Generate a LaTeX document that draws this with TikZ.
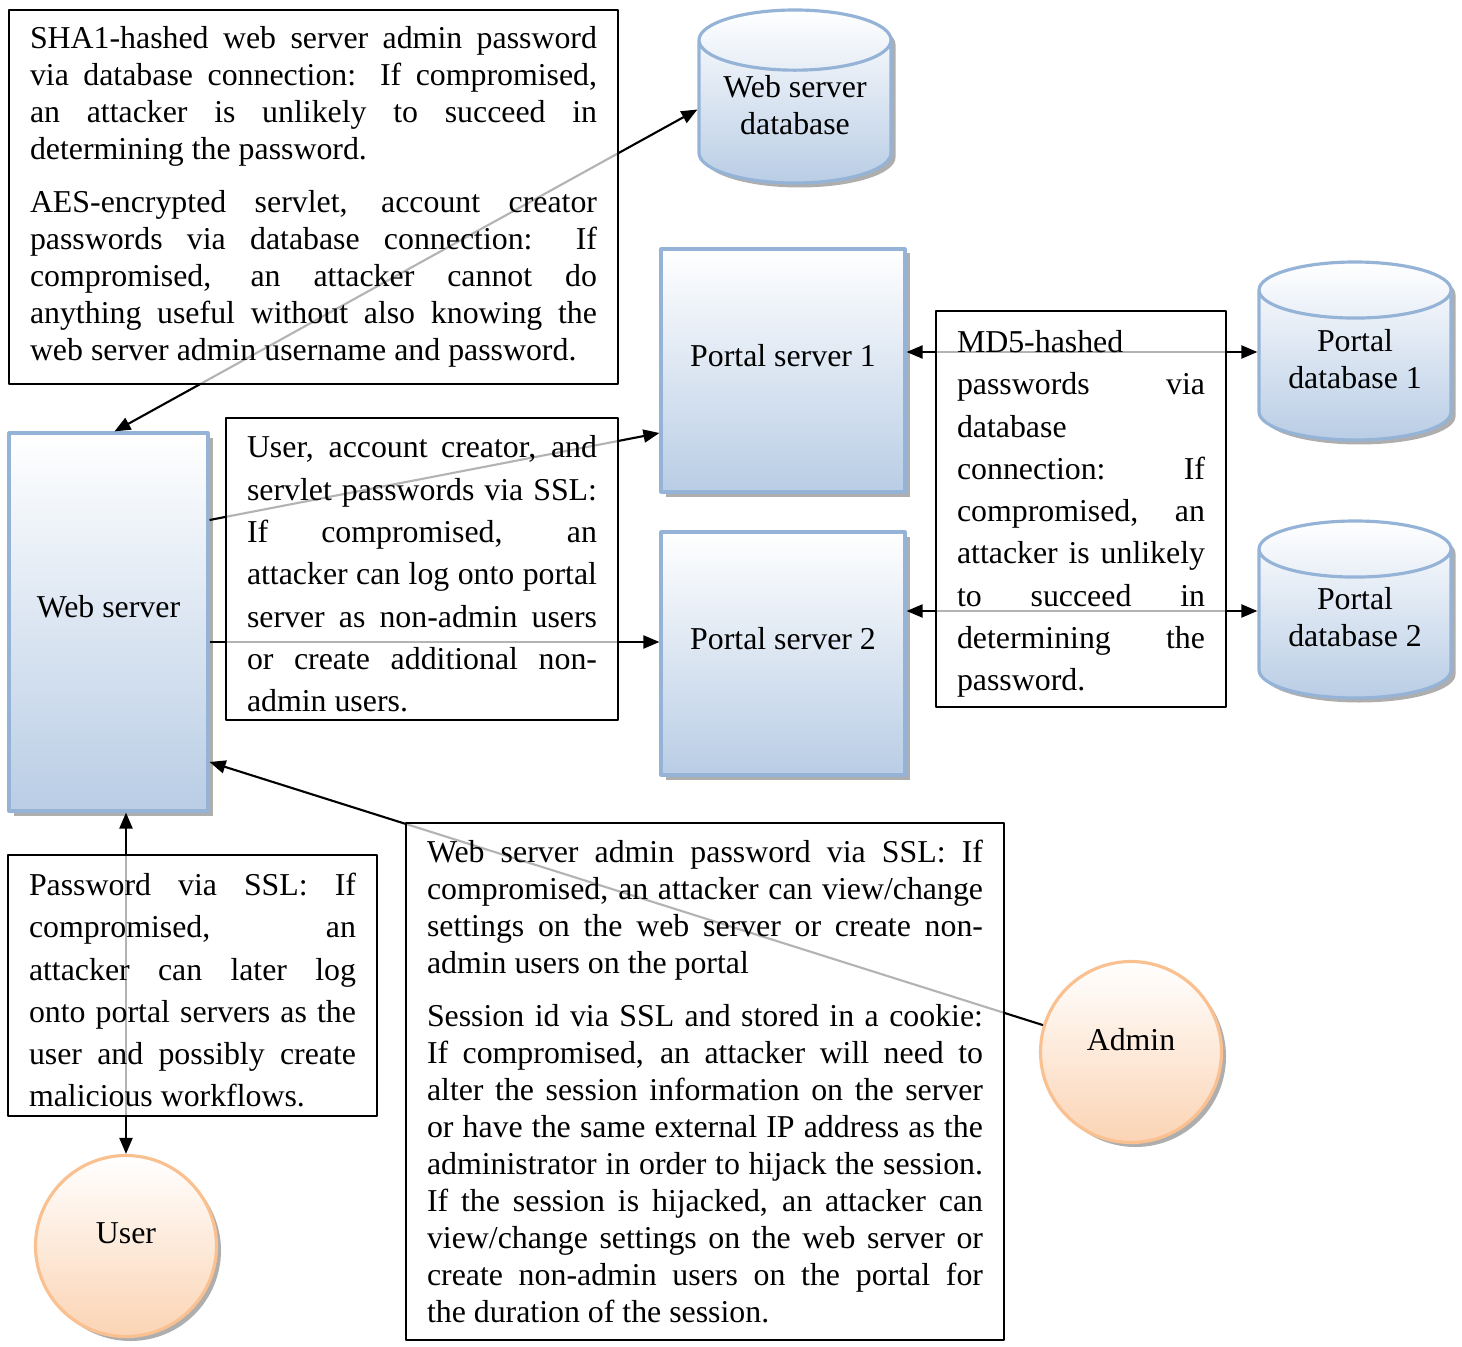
\documentclass[tikz,border=0pt]{standalone}
\usepackage{fontspec}
\setmainfont{Liberation Serif}
\usetikzlibrary{arrows.meta,shapes.geometric,shadows}
\definecolor{svblue}{HTML}{B9CDE5}
\definecolor{svline}{HTML}{95B3D7}
\definecolor{acpeach}{HTML}{FBD4B4}
\definecolor{acline}{HTML}{FAC090}
\setlength{\parindent}{0pt}
\hyphenpenalty=10000
\tolerance=10000
\newcommand{\lbfont}{\fontsize{9.06}{10.53}\selectfont}
\newcommand{\tbfont}{\fontsize{9.06}{10.53}\selectfont}
\newcommand{\wbfont}{\fontsize{9.06}{12.03}\selectfont}
\newcommand{\pgap}{\par\vspace{0.16cm}}
\newcommand{\topstrut}{\rule{0pt}{0.32cm}}
\newcommand{\dbstrut}{\rule[-0.14cm]{0pt}{0pt}}
\tikzset{
  every picture/.style={line join=round, >={Triangle[length=0.16cm,width=0.13cm]}},
  boxshadow/.style={drop shadow={shadow xshift=0.045cm, shadow yshift=-0.045cm, fill=black!45, opacity=0.7}},
  server/.style={rectangle, draw=svline, line width=0.9pt, top color=white, bottom color=svblue, boxshadow, font=\lbfont, text depth=0.31cm},
  dbase/.style={cylinder, shape border rotate=90, aspect=0.42, draw=svline, line width=0.9pt, top color=white, bottom color=svblue, boxshadow, font=\lbfont, align=center, inner sep=0pt, anchor=shape center},
  actor/.style={circle, draw=acline, line width=0.9pt, top color=white, bottom color=acpeach, boxshadow, font=\lbfont, minimum size=1.81cm, inner sep=0pt, text depth=0.25cm},
  link/.style={line width=0.6pt},
  txtbox/.style={rectangle, draw=black, line width=0.6pt, fill=white, fill opacity=0.7, text opacity=1, align=justify, inner xsep=0.21cm, inner ysep=0pt, font=\tbfont},
}

\begin{document}
\begin{tikzpicture}
\useasboundingbox (0,0) rectangle (14.62,-13.46);
% servers and databases
\node[server, minimum width=1.99cm, minimum height=3.78cm] (web) at (1.085,-6.22) {Web server};
\node[server, minimum width=2.44cm, minimum height=2.43cm] (ps1) at (7.83,-3.705) {Portal server 1};
\node[server, minimum width=2.44cm, minimum height=2.43cm] (ps2) at (7.83,-6.535) {Portal server 2};
\node[dbase, minimum width=1.92cm, minimum height=1.73cm] (db) at (7.95,-0.965) {Web server\\database\dbstrut};
\node[dbase, minimum width=1.92cm, minimum height=1.78cm] (pdb1) at (13.55,-3.51) {Portal\\database 1\dbstrut};
\node[dbase, minimum width=1.92cm, minimum height=1.77cm] (pdb2) at (13.55,-6.095) {Portal\\database 2\dbstrut};
% users
\node[actor] (user) at (1.26,-12.46) {User};
\node[actor] (admin) at (11.31,-10.52) {Admin};
% links
\draw[link, <->] ([xshift=0.06cm]web.north) -- ([yshift=-0.13cm]db.shape center -| db.west);
\draw[link, ->] ([yshift=1.02cm]web.east) -- ([yshift=-0.625cm]ps1.west);
\draw[link, ->] ([yshift=-0.2cm]web.east) -- ([yshift=-0.2cm]web.east -| ps2.west);
\draw[link, <->] ([yshift=0.185cm]ps1.east) -- ([yshift=0.185cm]ps1.east -| pdb1.west);
\draw[link, <->] ([yshift=0.425cm]ps2.east) -- ([yshift=0.425cm]ps2.east -| pdb2.west);
\draw[link, ->] (admin.163) -- ([yshift=-1.4cm]web.east);
\draw[link, <->] (user.north) -- (user.north |- web.south);
% notes
\node[txtbox, text width=5.67cm, minimum height=3.74cm] (shanote) at (3.135,-1.97) {SHA1-hashed web server admin password \linebreak via database connection: If compromised, \linebreak an attacker is unlikely to succeed in \linebreak determining the password.\pgap
AES-encrypted servlet, account creator \linebreak passwords via database connection: If \linebreak compromised, an attacker cannot do \linebreak anything useful without also knowing the \linebreak web server admin username and password.};
\node[txtbox, font=\wbfont, text width=3.50cm, minimum height=3.02cm] (sslnote) at (4.22,-5.69) {\topstrut User, account creator, and \linebreak servlet passwords via SSL: \linebreak If compromised, an \linebreak attacker can log onto portal \linebreak server as non-admin users \linebreak or create additional non-\linebreak admin users.};
\node[txtbox, font=\wbfont, text width=2.48cm, minimum height=3.96cm] (md5note) at (10.81,-5.09) {\topstrut MD5-hashed \linebreak passwords via \linebreak database \linebreak connection: If \linebreak compromised, an \linebreak attacker is unlikely \linebreak to succeed in \linebreak determining the \linebreak password.};
\node[txtbox, font=\wbfont, text width=3.27cm, minimum height=2.61cm] (pwnote) at (1.925,-9.855) {\topstrut Password via SSL: If \linebreak compromised, an \linebreak attacker can later log \linebreak onto portal servers as the \linebreak user and possibly create \linebreak malicious workflows.};
\node[txtbox, text width=5.56cm, minimum height=5.17cm] (adminnote) at (7.05,-10.815) {Web server admin password via SSL: If \linebreak compromised, an attacker can view/change \linebreak settings on the web server or create non-\linebreak admin users on the portal\pgap
Session id via SSL and stored in a cookie: \linebreak If compromised, an attacker will need to \linebreak alter the session information on the server \linebreak or have the same external IP address as the \linebreak administrator in order to hijack the session. \linebreak If the session is hijacked, an attacker can \linebreak view/change settings on the web server or \linebreak create non-admin users on the portal for \linebreak the duration of the session.};
\end{tikzpicture}
\end{document}
